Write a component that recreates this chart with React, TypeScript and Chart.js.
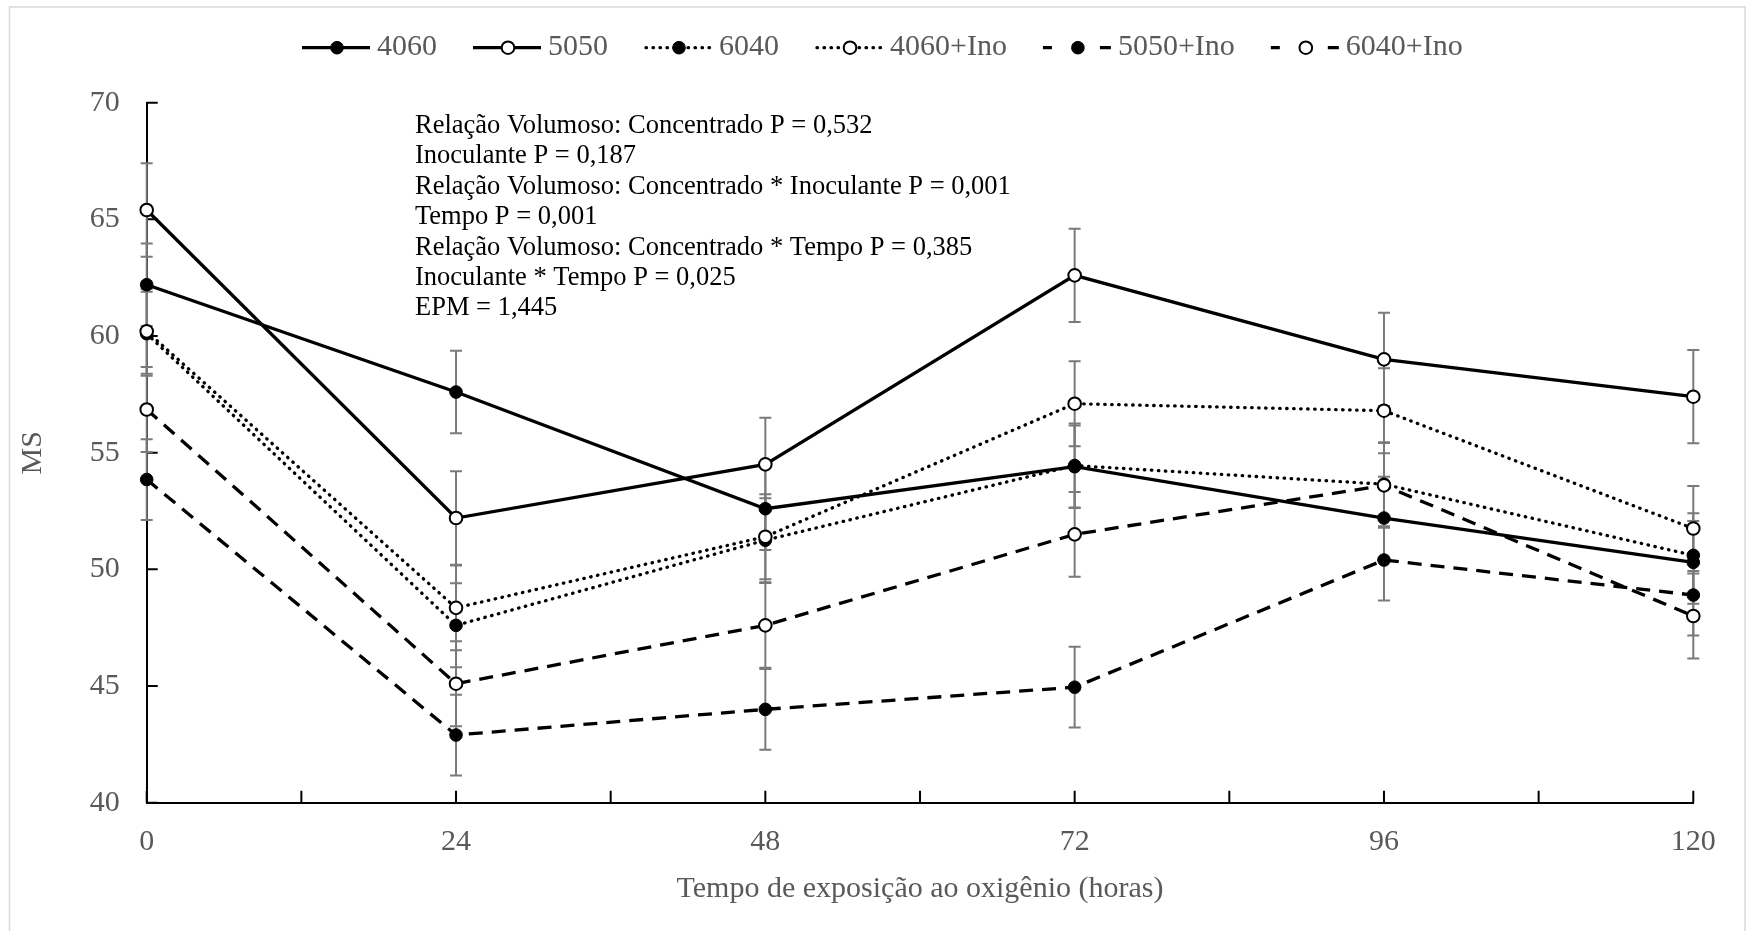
import { useEffect, useRef } from 'react';
import { Chart, registerables } from 'chart.js';

Chart.register(...registerables);

// ---------- data ----------
const times = [0, 24, 48, 72, 96, 120];
const xTickLabels = ['0', '24', '48', '72', '96', '120'];
const seriesNames = ['4060', '5050', '6040', '4060+Ino', '5050+Ino', '6040+Ino'];

const ms4060 = [62.2, 57.6, 52.6, 54.4, 52.2, 50.3];
const ms5050 = [65.4, 52.2, 54.5, 62.6, 59.0, 57.4];
const ms6040 = [60.1, 47.6, 51.25, 54.45, 53.65, 50.6];
const ms4060Ino = [60.2, 48.35, 51.4, 57.1, 56.8, 51.75];
const ms5050Ino = [53.85, 42.9, 44.0, 44.95, 50.4, 48.9];
const ms6040Ino = [56.85, 45.1, 47.6, 51.5, 53.6, 48.0];

const err4060 = [1.77, 1.77, 1.77, 1.77, 1.77, 1.77];
const err5050 = [2.0, 2.0, 2.0, 2.0, 2.0, 2.0];
const err6040 = [1.8, 1.8, 1.8, 1.8, 1.8, 1.8];
const err4060Ino = [1.82, 1.82, 1.82, 1.82, 1.82, 1.82];
const err5050Ino = [1.73, 1.73, 1.73, 1.73, 1.73, 1.73];
const err6040Ino = [1.82, 1.82, 1.82, 1.82, 1.82, 1.82];

const statsLines = [
  'Relação Volumoso: Concentrado P = 0,532',
  'Inoculante P = 0,187',
  'Relação Volumoso: Concentrado * Inoculante P = 0,001',
  'Tempo P = 0,001',
  'Relação Volumoso: Concentrado * Tempo P = 0,385',
  'Inoculante * Tempo P = 0,025',
  'EPM = 1,445',
];

const yTitle = 'MS';
const xTitle = 'Tempo de exposição ao oxigênio (horas)';

const seriesValues = [ms4060, ms5050, ms6040, ms4060Ino, ms5050Ino, ms6040Ino];
const seriesErrors = [err4060, err5050, err6040, err4060Ino, err5050Ino, err6040Ino];

// ---------- styles ----------
type LineKind = 'solid' | 'dot' | 'dash';
const lineKinds: LineKind[] = ['solid', 'solid', 'dot', 'dot', 'dash', 'dash'];
const filledMarkers = [true, false, true, false, true, false];
const dashFor = (k: LineKind) => (k === 'solid' ? [] : k === 'dot' ? [0.5, 6.5] : [14, 9]);

const FONT = '"Liberation Serif", "Times New Roman", serif';
const GRAY_TEXT = '#595959';
const MARKER_R = 6.3;
const LINE_W = 3.3;

function drawMarker(ctx: CanvasRenderingContext2D, x: number, y: number, filled: boolean) {
  ctx.save();
  ctx.setLineDash([]);
  ctx.beginPath();
  ctx.arc(x, y, MARKER_R, 0, Math.PI * 2);
  ctx.fillStyle = filled ? '#000' : '#fff';
  ctx.fill();
  ctx.lineWidth = filled ? 1 : 2;
  ctx.strokeStyle = '#000';
  ctx.stroke();
  ctx.restore();
}

const framePlugin = {
  id: 'frame',
  beforeDraw(chart: any) {
    const { ctx, width, height } = chart;
    ctx.save();
    ctx.fillStyle = '#fff';
    ctx.fillRect(0, 0, width, height);
    ctx.strokeStyle = '#d9d9d9';
    ctx.lineWidth = 1.5;
    ctx.strokeRect(9.5, 7, 1735.5, 940);
    ctx.restore();
  },
};

const ticksAndErrorsPlugin = {
  id: 'ticksAndErrors',
  beforeDatasetsDraw(chart: any) {
    const { ctx, chartArea } = chart;
    const xs = chart.scales.x;
    const ys = chart.scales.y;
    ctx.save();
    // inward tick marks
    ctx.strokeStyle = '#000';
    ctx.lineWidth = 2;
    ctx.beginPath();
    ys.ticks.forEach((t: any) => {
      const py = ys.getPixelForValue(t.value);
      ctx.moveTo(chartArea.left, py);
      ctx.lineTo(chartArea.left + 11, py);
    });
    xs.ticks.forEach((t: any) => {
      const px = xs.getPixelForValue(t.value);
      ctx.moveTo(px, chartArea.bottom);
      ctx.lineTo(px, chartArea.bottom - 12);
    });
    ctx.stroke();
    // error bars
    ctx.strokeStyle = '#7a7a7a';
    ctx.lineWidth = 2;
    seriesValues.forEach((vals, si) => {
      const errs = seriesErrors[si];
      vals.forEach((v, i) => {
        const px = xs.getPixelForValue(times[i]);
        const top = ys.getPixelForValue(v + errs[i]);
        const bot = ys.getPixelForValue(v - errs[i]);
        ctx.beginPath();
        ctx.moveTo(px, top);
        ctx.lineTo(px, bot);
        ctx.moveTo(px - 6, top);
        ctx.lineTo(px + 6, top);
        ctx.moveTo(px - 6, bot);
        ctx.lineTo(px + 6, bot);
        ctx.stroke();
      });
    });
    ctx.restore();
  },
};

const overlayPlugin = {
  id: 'overlay',
  afterDraw(chart: any) {
    const { ctx } = chart;
    ctx.save();
    // stats text
    ctx.fillStyle = '#000';
    ctx.font = `26.5px ${FONT}`;
    ctx.textAlign = 'left';
    ctx.textBaseline = 'middle';
    statsLines.forEach((line, i) => {
      ctx.fillText(line, 415, 126 + i * 30.4);
    });
    // legend
    const sampleW = 68;
    const gap = 7;
    const spacing = 36;
    const ly = 47.7;
    let x = 302;
    ctx.font = `30px ${FONT}`;
    seriesNames.forEach((name, i) => {
      const kind = lineKinds[i];
      ctx.save();
      ctx.strokeStyle = '#000';
      ctx.lineWidth = LINE_W;
      if (kind === 'solid') {
        ctx.beginPath();
        ctx.moveTo(x, ly);
        ctx.lineTo(x + sampleW, ly);
        ctx.stroke();
      } else if (kind === 'dot') {
        ctx.setLineDash(dashFor('dot'));
        ctx.lineCap = 'round';
        ctx.beginPath();
        ctx.moveTo(x + 2, ly);
        ctx.lineTo(x + sampleW, ly);
        ctx.stroke();
      } else {
        ctx.beginPath();
        ctx.moveTo(x, ly);
        ctx.lineTo(x + 9, ly);
        ctx.moveTo(x + sampleW - 11, ly);
        ctx.lineTo(x + sampleW, ly);
        ctx.stroke();
      }
      ctx.restore();
      drawMarker(ctx, x + sampleW / 2 + 1, ly, filledMarkers[i]);
      ctx.fillStyle = GRAY_TEXT;
      ctx.textBaseline = 'middle';
      ctx.fillText(name, x + sampleW + gap, ly - 0.5);
      const tw = ctx.measureText(name).width;
      x += sampleW + gap + tw + spacing;
    });
    ctx.restore();
  },
};

export default function App() {
  const ref = useRef<HTMLCanvasElement | null>(null);

  useEffect(() => {
    document.body.style.margin = '0';
    const canvas = ref.current;
    if (!canvas) return;
    Chart.defaults.font.family = FONT;

    const datasets = seriesValues.map((vals, i) => ({
      label: seriesNames[i],
      data: times.map((t, j) => ({ x: t, y: vals[j] })),
      borderColor: '#000',
      borderWidth: LINE_W,
      borderDash: dashFor(lineKinds[i]),
      borderCapStyle: lineKinds[i] === 'dot' ? 'round' : 'butt',
      pointRadius: MARKER_R,
      pointHoverRadius: MARKER_R,
      pointBorderWidth: filledMarkers[i] ? 1 : 2,
      pointBackgroundColor: filledMarkers[i] ? '#000' : '#fff',
      pointBorderColor: '#000',
      fill: false,
      tension: 0,
      clip: false as any,
      order: seriesNames.length - 1 - i,
    }));

    const chart = new Chart(canvas, {
      type: 'line',
      data: { datasets: datasets as any },
      options: {
        responsive: false,
        animation: false,
        devicePixelRatio: 1,
        layout: { padding: { top: 102.7, right: 52.7, left: 0, bottom: 0 } },
        plugins: {
          legend: { display: false },
          tooltip: { enabled: false },
        },
        scales: {
          x: {
            type: 'linear',
            min: 0,
            max: 120,
            grid: { display: false, drawTicks: false, tickLength: 0 },
            border: { display: true, color: '#000', width: 2 },
            ticks: {
              stepSize: 12,
              autoSkip: false,
              maxRotation: 0,
              padding: 21,
              color: GRAY_TEXT,
              font: { size: 30, family: FONT },
              callback: (v: any) => {
                const idx = times.indexOf(Number(v));
                return idx >= 0 ? xTickLabels[idx] : '';
              },
            },
            title: {
              display: true,
              text: xTitle,
              color: GRAY_TEXT,
              font: { size: 30, family: FONT },
              padding: { top: 0, bottom: 24 },
            },
            afterFit: (s: any) => {
              s.height = 931 - 802.7;
            },
          },
          y: {
            type: 'linear',
            min: 40,
            max: 70,
            grid: { display: false, drawTicks: false, tickLength: 0 },
            border: { display: true, color: '#000', width: 2 },
            ticks: {
              stepSize: 5,
              padding: 27,
              color: GRAY_TEXT,
              font: { size: 30, family: FONT },
            },
            title: {
              display: true,
              text: yTitle,
              color: GRAY_TEXT,
              font: { size: 30, family: FONT },
              padding: { top: 15, bottom: 0 },
            },
            afterFit: (s: any) => {
              s.width = 146.7;
            },
          },
        },
      },
      plugins: [framePlugin, ticksAndErrorsPlugin, overlayPlugin],
    });

    return () => chart.destroy();
  }, []);

  return <canvas ref={ref} width={1746} height={931} style={{ display: 'block' }} />;
}
